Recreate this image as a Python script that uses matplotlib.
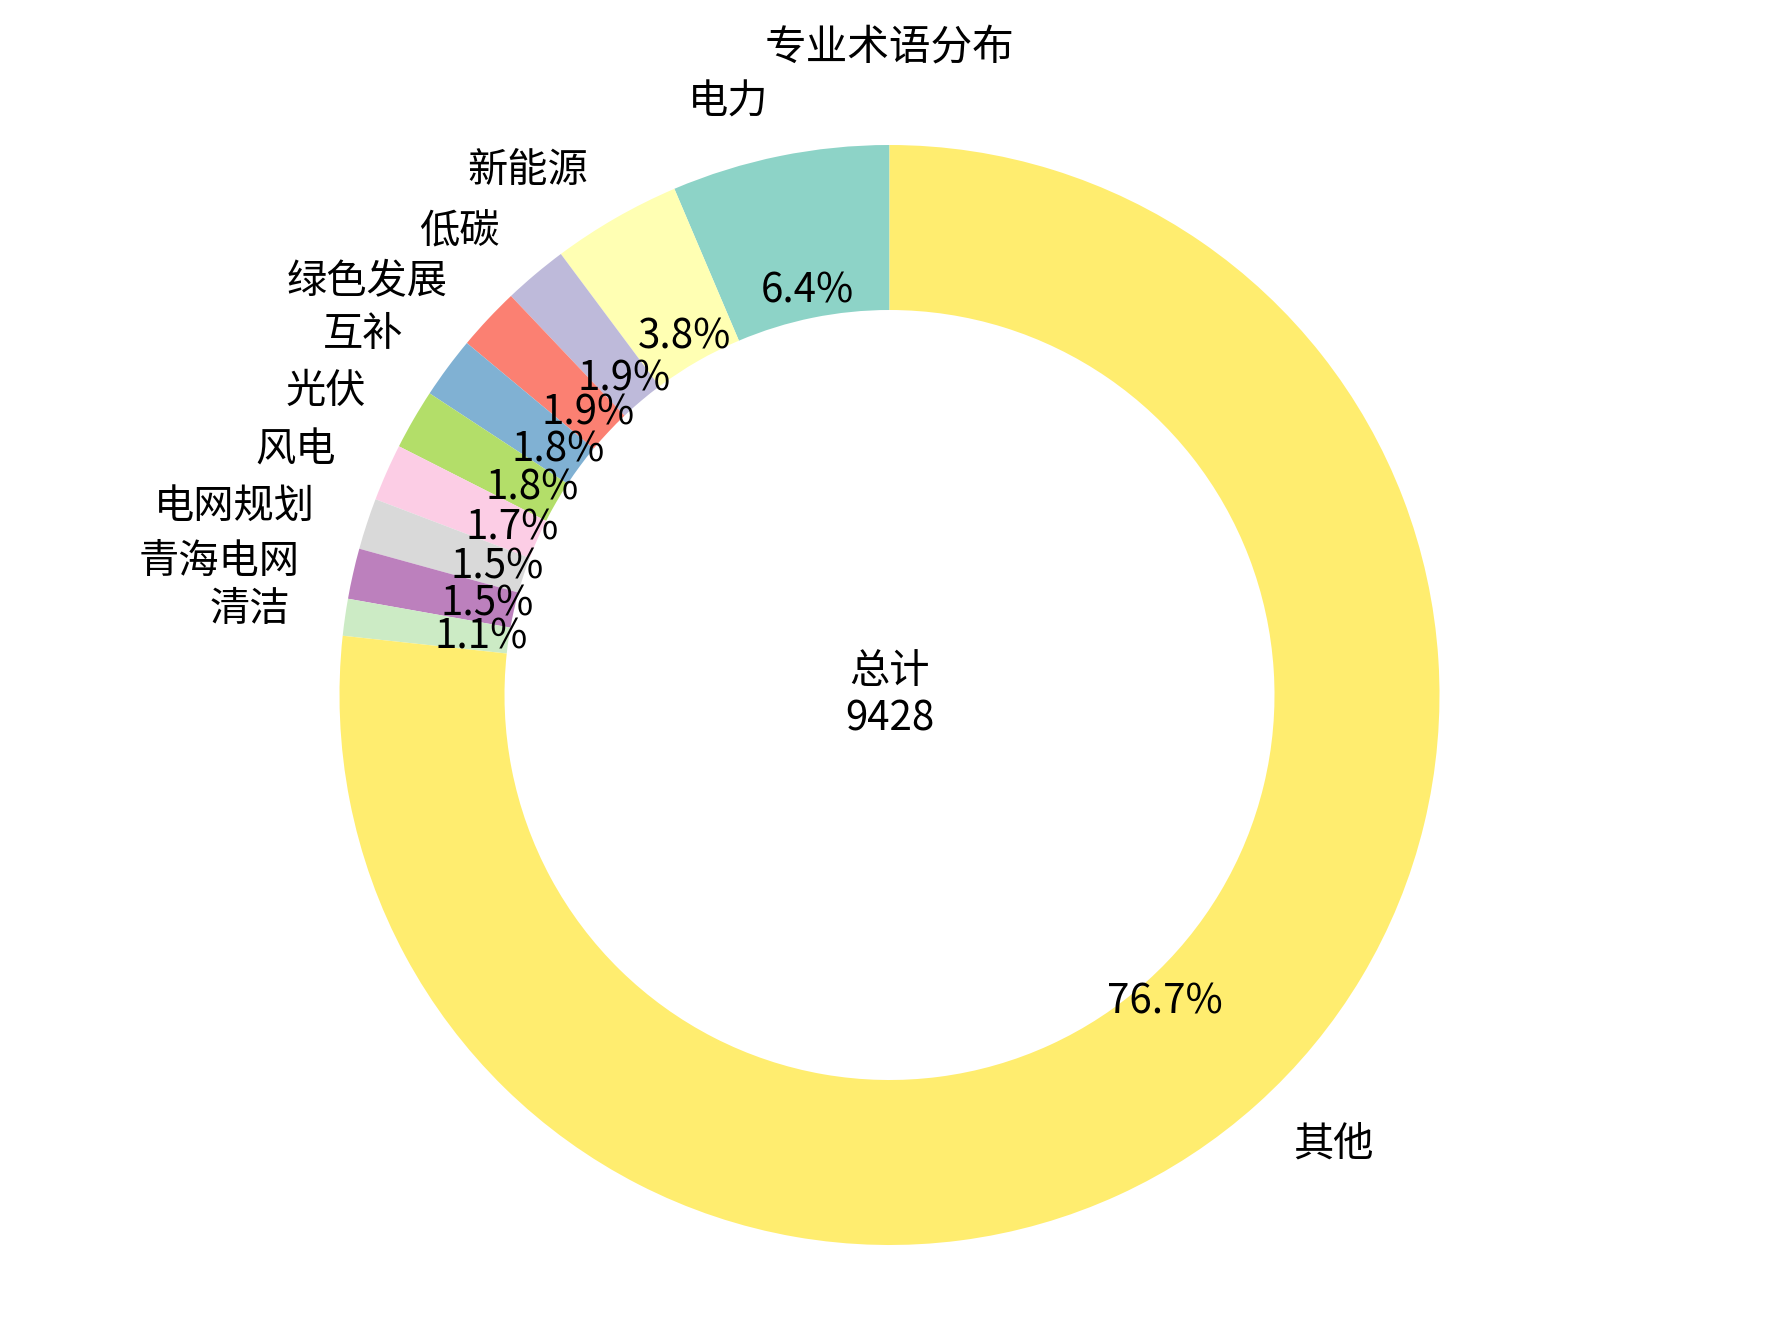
import numpy as np
import matplotlib
matplotlib.use("Agg")
import matplotlib.pyplot as plt

plt.rcParams['font.family'] = ['Noto Sans CJK SC', 'DejaVu Sans']

# term counts (total 9428)
terms = ['电力', '新能源', '低碳', '绿色发展', '互补', '光伏',
         '风电', '电网规划', '青海电网', '清洁', '其他']
counts = [603, 358, 178, 176, 171, 167, 158, 142, 140, 102, 7233]
total = sum(counts)

colors = plt.cm.Set3(np.linspace(0, 1, len(terms)))

fig = plt.figure(figsize=(17.79, 13.26), dpi=100)
ax = fig.add_axes([0, 0, 1, 1])

wedges, texts, autotexts = ax.pie(counts,
                                  labels=terms,
                                  colors=colors,
                                  autopct='%1.1f%%',
                                  startangle=90,
                                  pctdistance=0.75,
                                  labeldistance=1.1,
                                  wedgeprops=dict(width=0.3),
                                  textprops=dict(fontsize=29))

ax.text(0, 0, '总计\n%d' % total, ha='center', va='center', fontsize=29)

# place the ring in the figure
scale = 550.0
ax.set_aspect('equal')
ax.set_xlim(-889.5 / scale, 889.5 / scale)
ax.set_ylim(-631 / scale, 695 / scale)
ax.axis('off')

fig.text(0.5, 1 - 48 / 1326, '专业术语分布', ha='center', va='center',
         fontsize=30)

fig.savefig("out.png", dpi=100)
